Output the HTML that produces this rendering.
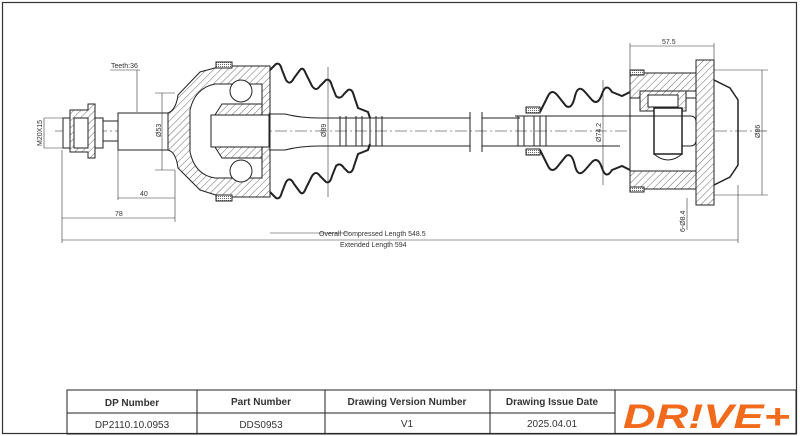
<!DOCTYPE html>
<html><head><meta charset="utf-8"><style>
html,body{margin:0;padding:0;background:#fff}
svg{display:block}
text{font-family:"Liberation Sans",sans-serif;fill:#333}
</style></head><body>
<svg width="800" height="436" viewBox="0 0 800 436" xmlns="http://www.w3.org/2000/svg">
<defs>
<pattern id="h" width="5" height="5" patternUnits="userSpaceOnUse" patternTransform="rotate(45)">
<rect width="5" height="5" fill="#fff"/><line x1="0" y1="0" x2="0" y2="5" stroke="#444" stroke-width="0.8"/>
</pattern>
<pattern id="d" width="2" height="2" patternUnits="userSpaceOnUse"><rect width="2" height="2" fill="#fff"/><rect width="1" height="1" fill="#666"/></pattern>
</defs>
<rect x="2.5" y="2.5" width="794" height="431" fill="none" stroke="#333" stroke-width="1.2"/>
<g stroke="#222" stroke-width="1" fill="none">
<line x1="55" y1="131" x2="770" y2="131" stroke-dasharray="12,3,2,3" stroke-width="0.6"/>
<rect x="63" y="118" width="12" height="30" fill="#fff"/>
<path d="M70 110 H88 V104 H95 V158 H88 V152 H70 Z" fill="url(#h)"/>
<rect x="74" y="118" width="14" height="30" fill="#fff"/>
<rect x="95" y="118" width="8" height="30" fill="#fff"/>
<rect x="103" y="121" width="15" height="20"/>
<rect x="118" y="113" width="50" height="37" fill="#fff"/>
<path d="M168 113 Q176 110 178 95 L200 72 L222 66 L270 66 L270 197 L222 197 L200 190 L178 168 Q176 152 168 150 Z" fill="url(#h)"/>
<path d="M190 110 Q195 88 215 84 L262 84 L262 178 L215 178 Q195 175 190 152 Z" fill="#fff"/>
<circle cx="241" cy="91" r="11" fill="#fff"/>
<circle cx="241" cy="171" r="11" fill="#fff"/>
<path d="M222 104 L262 104 L262 115 L215 115 Z" fill="url(#h)"/>
<path d="M215 147 L262 147 L262 158 L222 158 Z" fill="url(#h)"/>
<rect x="211" y="115" width="58" height="32" fill="#fff"/>
<rect x="216" y="62" width="16" height="6" fill="url(#d)"/>
<rect x="216" y="195" width="16" height="6" fill="url(#d)"/>
<path d="M270 70 L276 64 Q280 62 282 70 L286 80 Q290 86 294 78 L300 70 Q303 66 306 74 L312 86 Q316 92 320 86 L326 80 Q330 78 332 86 L336 96 Q340 100 344 94 L348 90 Q352 88 354 96 L358 108 L368 112 L370 118" stroke-width="2"/>
<path d="M270 192 L276 198 Q280 200 282 192 L286 182 Q290 176 294 184 L300 192 Q303 196 306 188 L312 176 Q316 170 320 176 L326 182 Q330 184 332 176 L336 166 Q340 162 344 168 L348 172 Q352 174 354 166 L358 154 L368 150 L370 144" stroke-width="2"/>
<path d="M269 114 L285 114 Q300 118 320 118 L470 118 M269 150 L285 150 Q300 146 320 146 L470 146" />
<path d="M340 116 V146 M346 116 V146 M356 116 V146 M362 116 V146 M370 116 V146 M376 116 V146 M382 116 V146"/>
<line x1="470" y1="112" x2="470" y2="152"/>
<line x1="482" y1="112" x2="482" y2="152"/>
<path d="M482 118 L520 118 M482 146 L520 146"/>
<path d="M515 116 H620 M515 146 H620 M518 116 V146 M524 116 V146 M534 116 V146 M540 116 V146 M546 116 V146"/>
<rect x="526" y="107" width="14" height="6" fill="url(#d)"/>
<rect x="526" y="149" width="14" height="6" fill="url(#d)"/>
<path d="M540 112 L548 96 Q552 88 558 96 L566 106 Q572 110 575 96 Q578 84 585 92 L592 100 Q598 106 602 94 Q606 82 612 92 L622 96 L630 92" stroke-width="2"/>
<path d="M540 150 L548 166 Q552 174 558 166 L566 156 Q572 152 575 166 Q578 178 585 170 L592 162 Q598 156 602 168 Q606 180 612 170 L622 166 L630 170" stroke-width="2"/>
<path d="M630 73 H700 V91 H660 V98 H630 Z" fill="url(#h)"/>
<path d="M630 171 H700 V189 H630 Z" fill="url(#h)"/>
<rect x="630" y="98" width="70" height="73" fill="#fff"/>
<rect x="640" y="91" width="46" height="20" fill="url(#h)"/>
<rect x="648" y="95" width="30" height="12" fill="#fff"/>
<rect x="654" y="108" width="28" height="46" fill="#fff" stroke-width="1.5"/>
<path d="M620 116 H690 Q696 116 696 122 V140 Q696 146 690 146 H682"/>
<path d="M654 154 Q668 166 682 154"/>
<path d="M696 60 H714 V205 H696 Z" fill="url(#h)"/>
<path d="M714 80 L730 88 L738 100 L738 165 L730 177 L714 185" stroke-width="1.5"/>
<rect x="630" y="70" width="14" height="5" fill="url(#d)"/>
<rect x="630" y="187" width="14" height="5" fill="url(#d)"/>
</g>
<g stroke="#333" stroke-width="0.6" fill="none">
<line x1="62" y1="150" x2="62" y2="243"/>
<line x1="118" y1="150" x2="118" y2="200"/>
<line x1="175" y1="170" x2="175" y2="222"/>
<line x1="118" y1="198" x2="175" y2="198"/>
<line x1="62" y1="218" x2="175" y2="218"/>
<line x1="62" y1="240" x2="738" y2="240"/>
<line x1="738" y1="185" x2="738" y2="243"/>
<line x1="44" y1="118" x2="44" y2="148"/>
<line x1="44" y1="118" x2="63" y2="118"/><line x1="44" y1="148" x2="63" y2="148"/>
<line x1="162" y1="93" x2="162" y2="170"/>
<line x1="155" y1="93" x2="175" y2="93"/><line x1="155" y1="170" x2="175" y2="170"/>
<line x1="328" y1="67" x2="328" y2="197"/>
<line x1="603" y1="80" x2="603" y2="185"/>
<line x1="762" y1="70" x2="762" y2="195"/>
<line x1="714" y1="70" x2="768" y2="70"/><line x1="714" y1="195" x2="768" y2="195"/>
<line x1="630" y1="46" x2="714" y2="46"/>
<line x1="630" y1="43" x2="630" y2="72"/><line x1="714" y1="43" x2="714" y2="60"/>
<line x1="687" y1="198" x2="687" y2="230"/>
<path d="M110 70 H140 M137 70 V112"/>
<line x1="270" y1="233" x2="350" y2="233"/>
</g>
<g font-size="7">
<text x="111" y="68">Teeth:36</text>
<text x="140" y="196">40</text>
<text x="115" y="216">78</text>
<text x="319" y="236">Overall Compressed Length 548.5</text>
<text x="340" y="247">Extended Length 594</text>
<text x="662" y="44">57.5</text>
<text transform="translate(42,146) rotate(-90)">M20X15</text>
<text transform="translate(161,137) rotate(-90)">Ø53</text>
<text transform="translate(326,137) rotate(-90)">Ø89</text>
<text transform="translate(601,142) rotate(-90)">Ø74.2</text>
<text transform="translate(760,138) rotate(-90)">Ø86</text>
<text transform="translate(685,232) rotate(-90)">6-Ø8.4</text>
</g>
<g stroke="#222" stroke-width="1" fill="none">
<rect x="67" y="390" width="729" height="44"/>
<line x1="67" y1="413" x2="615" y2="413"/>
<line x1="197" y1="390" x2="197" y2="434"/>
<line x1="325" y1="390" x2="325" y2="434"/>
<line x1="490" y1="390" x2="490" y2="434"/>
<line x1="615" y1="390" x2="615" y2="434"/>
</g>
<g font-size="10" text-anchor="middle">
<text x="132" y="406" font-weight="bold" fill="#111">DP Number</text>
<text x="261" y="405" font-weight="bold" fill="#111">Part Number</text>
<text x="407" y="405" font-weight="bold" fill="#111">Drawing Version Number</text>
<text x="552" y="405" font-weight="bold" fill="#111">Drawing Issue Date</text>
<text x="132" y="428" fill="#111">DP2110.10.0953</text>
<text x="261" y="428" fill="#111">DDS0953</text>
<text x="407" y="427" fill="#111">V1</text>
<text x="552" y="427" fill="#111">2025.04.01</text>
</g>
<text x="623" y="428" font-size="34" font-weight="bold" font-style="italic" textLength="167" lengthAdjust="spacingAndGlyphs" style="fill:#f26b1d">DR!VE+</text>
</svg>
</body></html>
